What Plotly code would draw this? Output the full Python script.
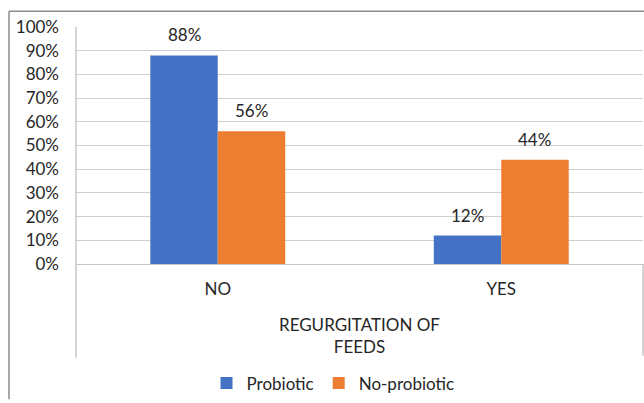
import plotly.graph_objects as go

# Share of infants with regurgitation of feeds, by study group
categories = ["NO", "YES"]
probiotic = [0.88, 0.12]
no_probiotic = [0.56, 0.44]
series_names = ["Probiotic", "No-probiotic"]
colors = ["#4472C4", "#ED7D31"]
y_ticks = [i / 10 for i in range(11)]

W, H = 644, 403
L, R, T, B = 76, 1, 27, 136
plot_w = W - L - R
plot_h = H - T - B
BARGAP = 0.524

FONT = "Lato, Carlito, 'Open Sans', sans-serif"
TXT = "#262626"
FS = 17

fig = go.Figure()
for name, vals, col in zip(series_names, [probiotic, no_probiotic], colors):
    fig.add_trace(go.Bar(
        x=categories, y=vals, name=name,
        marker=dict(color=col, line=dict(width=0)),
    ))

# value labels above every bar (each bar is half of the group width)
bar_w = plot_w / len(categories) * (1 - BARGAP) / 2
annotations = []
for i, vals in enumerate([probiotic, no_probiotic]):
    for c, v in zip(categories, vals):
        annotations.append(dict(
            x=c, y=v, xref="x", yref="y", text=f"{round(v * 100)}%",
            showarrow=False, yanchor="bottom", yshift=8,
            xshift=(-1 if i == 0 else 1) * bar_w / 2,
            font=dict(size=FS, color=TXT, family=FONT),
        ))

def px_x(px):
    return (px - L) / plot_w

def px_y(py):
    return (T + plot_h - py) / plot_h

# axis group title
annotations.append(dict(
    x=0.5, y=px_y(339), xref="paper", yref="paper",
    text="REGURGITATION OF<br>FEEDS", showarrow=False,
    font=dict(size=FS, color=TXT, family=FONT), align="center",
    yanchor="middle", xanchor="center",
))

line_grey = "#BFBFBF"
border = "#8C8C8C"
shapes = [
    # category axis separators
    dict(type="line", xref="paper", yref="paper", x0=0, x1=0,
         y0=1, y1=px_y(362), line=dict(color=line_grey, width=1.3)),
    dict(type="line", xref="paper", yref="paper", x0=1, x1=1,
         y0=0, y1=px_y(360), line=dict(color=line_grey, width=1.3)),
    # chart frame
    dict(type="line", xref="paper", yref="paper", x0=px_x(9), x1=px_x(9),
         y0=px_y(11), y1=px_y(404), line=dict(color=border, width=1.5)),
    dict(type="line", xref="paper", yref="paper", x0=px_x(9), x1=px_x(645),
         y0=px_y(11), y1=px_y(11), line=dict(color=border, width=1.5)),
]

fig.update_layout(
    width=W, height=H,
    margin=dict(l=L, r=R, t=T, b=B, pad=0),
    paper_bgcolor="white", plot_bgcolor="white",
    barmode="group", bargap=BARGAP, bargroupgap=0,
    font=dict(family=FONT, size=FS, color=TXT),
    showlegend=True,
    legend=dict(orientation="h", x=px_x(333), xanchor="center",
                y=px_y(388), yanchor="middle",
                font=dict(size=FS, color=TXT, family=FONT),
                itemwidth=30, tracegroupgap=0),
    annotations=annotations,
    shapes=shapes,
    xaxis=dict(showgrid=False, showline=False, ticks="",
               tickfont=dict(size=FS, color=TXT, family=FONT),
               ticklabelstandoff=13, fixedrange=True),
    yaxis=dict(range=[0, 1], tickvals=y_ticks, tickformat=".0%",
               showgrid=True, gridcolor="#CFCFCF", gridwidth=1.3,
               zeroline=True, zerolinecolor="#C4C4C4", zerolinewidth=1.3,
               showline=False, ticks="",
               tickfont=dict(size=FS, color=TXT, family=FONT),
               ticklabelstandoff=16, fixedrange=True),
)

fig.write_html("out.html")
